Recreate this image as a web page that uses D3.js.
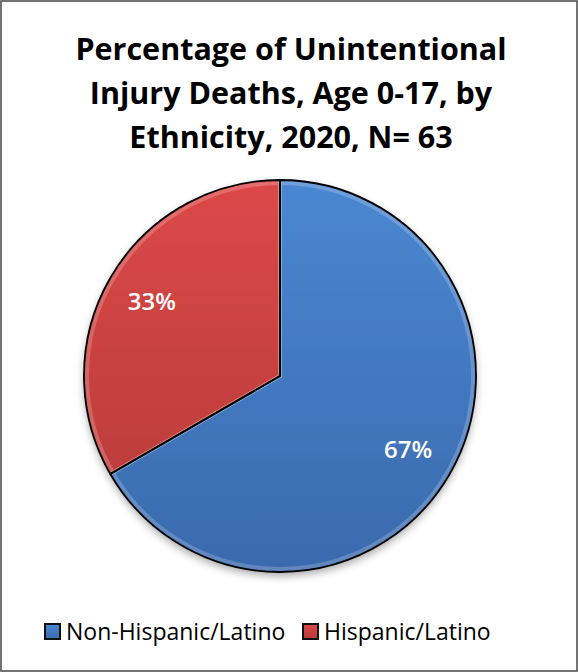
<!DOCTYPE html>
<html><head><meta charset="utf-8">
<script src="https://cdn.jsdelivr.net/npm/d3@7"></script>
<style>body{margin:0;background:#fff}svg{display:block}</style>
</head><body>
<svg id="c" width="578" height="672"></svg>
<script>
const titleLines = ["Percentage of Unintentional", "Injury Deaths, Age 0-17, by", "Ethnicity, 2020, N= 63"];
const categories = ["Non-Hispanic/Latino", "Hispanic/Latino"];
const counts = [42, 21];
const labels = ["67%", "33%"];
const colorsTop = ["#4a87d2", "#dc4848"];
const colorsBottom = ["#3a6aad", "#b33a37"];

const svg = d3.select("#c");
const W = 578, H = 672;
svg.append("rect").attr("x",1).attr("y",1).attr("width",W-2).attr("height",H-2)
  .attr("fill","#fff").attr("stroke","#444").attr("stroke-width",1.5);

const defs = svg.append("defs");
categories.forEach((c,i)=>{
  const g = defs.append("linearGradient").attr("id","g"+i)
    .attr("gradientUnits","userSpaceOnUse").attr("x1",0).attr("y1",-196).attr("x2",0).attr("y2",196);
  g.append("stop").attr("offset","0%").attr("stop-color",colorsTop[i]);
  g.append("stop").attr("offset","100%").attr("stop-color",colorsBottom[i]);
  const lgG = defs.append("linearGradient").attr("id","lg"+i).attr("x1",0).attr("y1",0).attr("x2",0).attr("y2",1);
  lgG.append("stop").attr("offset","0%").attr("stop-color",colorsTop[i]);
  lgG.append("stop").attr("offset","100%").attr("stop-color",colorsBottom[i]);
});
const f = defs.append("filter").attr("id","sh").attr("x","-20%").attr("y","-20%").attr("width","140%").attr("height","140%");
f.append("feGaussianBlur").attr("in","SourceAlpha").attr("stdDeviation",4);
f.append("feOffset").attr("dx",0).attr("dy",4).attr("result","b");
f.append("feComponentTransfer").append("feFuncA").attr("type","linear").attr("slope",0.35);
const m = f.append("feMerge"); m.append("feMergeNode"); m.append("feMergeNode").attr("in","SourceGraphic");

svg.append("g").selectAll("text").data(titleLines).join("text")
  .attr("x",291).attr("y",(d,i)=>60+i*44).attr("text-anchor","middle")
  .attr("font-family","'Open Sans', Lato, sans-serif").attr("font-weight","bold")
  .attr("font-size",30.5).attr("fill","#000").text(d=>d);

const cx=280, cy=376, R=196;
const pie = d3.pie().sort(null).value(d=>d);
const arcs = pie(counts);
const arc = d3.arc().innerRadius(0).outerRadius(R);
const g = svg.append("g").attr("transform",`translate(${cx},${cy})`);
g.append("g").attr("filter","url(#sh)").selectAll("path").data(arcs).join("path")
  .attr("d",arc).attr("fill",(d,i)=>`url(#g${i})`);
g.selectAll("path.hl").data(arcs).join("path").attr("class","hl")
  .attr("d",d3.arc().innerRadius(0).outerRadius(R-3))
  .attr("fill","none").attr("stroke","rgba(255,255,255,0.2)").attr("stroke-width",4);
g.selectAll("path.st").data(arcs).join("path").attr("class","st")
  .attr("d",arc).attr("fill","none").attr("stroke","#000").attr("stroke-width",1.8).attr("stroke-linejoin","round");
const lab = d3.arc().innerRadius(148).outerRadius(148);
g.selectAll("text").data(arcs).join("text")
  .attr("transform",d=>`translate(${lab.centroid(d)})`).attr("text-anchor","middle").attr("dy","0.35em")
  .attr("font-family","'Open Sans', Lato, sans-serif").attr("font-weight","600")
  .attr("font-size",24).attr("fill","#fff").text((d,i)=>labels[i]);

const legX = [44, 302];
const lg = svg.append("g");
categories.forEach((c,i)=>{
  lg.append("rect").attr("x",legX[i]+1).attr("y",624).attr("width",15).attr("height",15)
    .attr("fill",`url(#lg${i})`).attr("stroke","#111").attr("stroke-width",2);
  lg.append("text").attr("x",legX[i]+22).attr("y",640)
    .attr("font-family","'Open Sans', 'Noto Sans', sans-serif").attr("font-size",23).attr("fill","#000").text(c);
});
</script>
</body></html>
